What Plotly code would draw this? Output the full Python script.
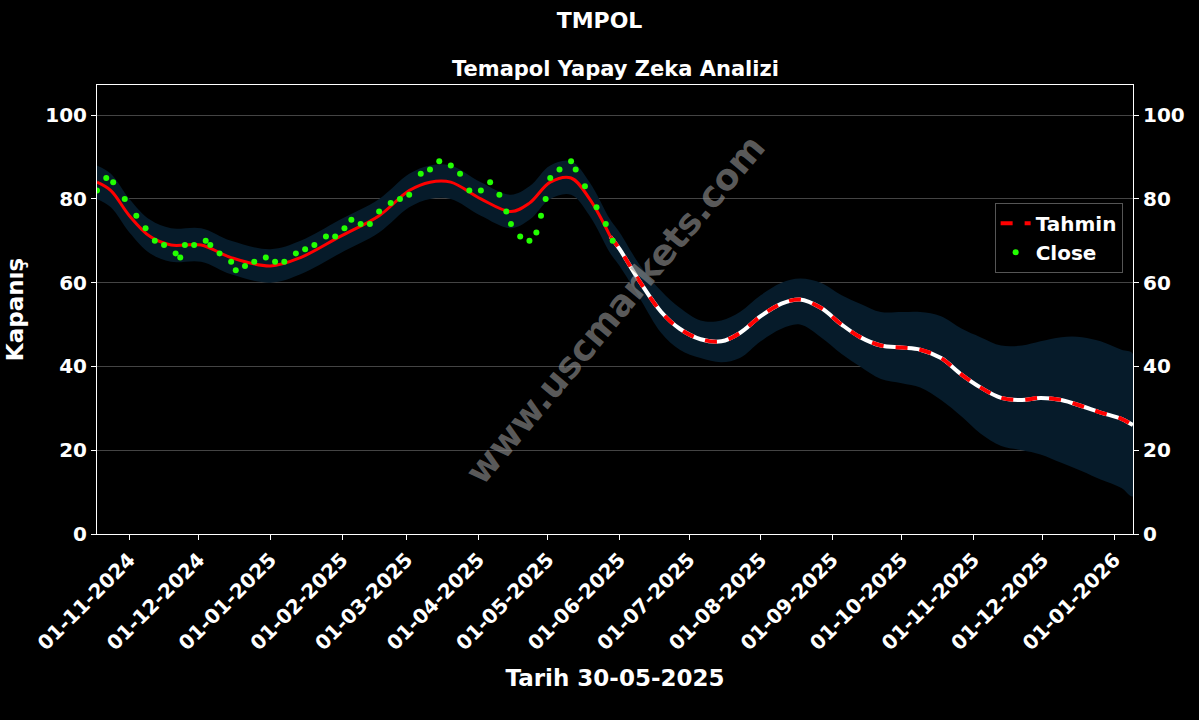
import plotly.graph_objects as go

close_dates = ["2024-10-18","2024-10-22","2024-10-25","2024-10-30","2024-11-04","2024-11-08","2024-11-12","2024-11-16","2024-11-21","2024-11-23","2024-11-25","2024-11-29","2024-12-04","2024-12-06","2024-12-10","2024-12-15","2024-12-17","2024-12-21","2024-12-25","2024-12-30","2025-01-03","2025-01-07","2025-01-12","2025-01-16","2025-01-20","2025-01-25","2025-01-29","2025-02-02","2025-02-05","2025-02-09","2025-02-13","2025-02-17","2025-02-22","2025-02-26","2025-03-02","2025-03-07","2025-03-11","2025-03-15","2025-03-20","2025-03-24","2025-03-28","2025-04-02","2025-04-06","2025-04-10","2025-04-13","2025-04-15","2025-04-19","2025-04-23","2025-04-26","2025-04-28","2025-04-30","2025-05-02","2025-05-06","2025-05-11","2025-05-13","2025-05-17","2025-05-22","2025-05-26","2025-05-29"]
close_vals = [82,85,84,80,76,73,70,69,67,66,69,69,70,69,67,65,63,64,65,66,65,65,67,68,69,71,71,73,75,74,74,77,79,80,81,86,87,89,88,86,82,82,84,81,77,74,71,70,72,76,80,85,87,89,87,83,78,74,70]

pred_dates = ["2024-10-18","2024-10-24","2024-11-01","2024-11-10","2024-11-19","2024-12-02","2024-12-15","2025-01-01","2025-01-14","2025-01-31","2025-02-17","2025-03-02","2025-03-11","2025-03-20","2025-04-02","2025-04-15","2025-04-23","2025-05-02","2025-05-11","2025-05-19","2025-05-28","2025-06-01","2025-06-10","2025-06-19","2025-06-27","2025-07-06","2025-07-15","2025-07-23","2025-08-01","2025-08-10","2025-08-18","2025-08-27","2025-09-05","2025-09-13","2025-09-22","2025-10-01","2025-10-09","2025-10-18","2025-10-27","2025-11-04","2025-11-13","2025-11-22","2025-11-30","2025-12-09","2025-12-18","2025-12-26","2026-01-04","2026-01-09"]
pred_vals = [84,82,76,71,69,69,66,64,66,71,76,82,84,84,80,77,79,84,85,80,71,68,60,53,49,46.5,46,48,52,55,56,54,50,47,45,44.5,44,42,38,35,32.5,32,32.5,32,30.5,29,27.5,26]
upper_vals = [88,86,80,75,73,73,70,68,70,75,80,86,88,88,84,81,83,88,89,84,75,72,64,58,54,51,51,53,57,60,61,60,57,55,53,53,53,52,49,47,45,45,46,47,47,46,44,43]
lower_vals = [80,78,72,67,65,65,62,60,62,67,72,78,80,80,76,73,75,80,81,76,67,64,56,48,44,42,41,42,46,49,50,47,43,40,37,36,35,32,28,24,21,20,19,17,15,13,11,9]

split = 21  # forecast begins near 2025-05-30

fig = go.Figure()
fig.add_trace(go.Scatter(x=pred_dates + pred_dates[::-1], y=upper_vals + lower_vals[::-1],
    fill="toself", fillcolor="#061b2a", line=dict(width=0, shape="spline"), showlegend=False, hoverinfo="skip"))
fig.add_trace(go.Scatter(x=pred_dates[:split], y=pred_vals[:split], mode="lines",
    line=dict(color="#ff0000", width=3, shape="spline"), showlegend=False))
fig.add_trace(go.Scatter(x=pred_dates[split-1:], y=pred_vals[split-1:], mode="lines",
    line=dict(color="white", width=4, shape="spline"), showlegend=False))
fig.add_trace(go.Scatter(x=pred_dates[split-1:], y=pred_vals[split-1:], mode="lines", name="Tahmin",
    line=dict(color="#ff0000", width=4, dash="dash", shape="spline")))
fig.add_trace(go.Scatter(x=close_dates, y=close_vals, mode="markers", name="Close",
    marker=dict(color="#22ff00", size=6)))
fig.add_trace(go.Scatter(x=[close_dates[0]], y=[close_vals[0]], yaxis="y2", mode="markers",
    marker=dict(opacity=0), showlegend=False, hoverinfo="skip"))

tickfont = dict(family="DejaVu Sans", color="white", size=20, weight="bold")
fig.update_layout(
    width=1199, height=720, paper_bgcolor="black", plot_bgcolor="black",
    margin=dict(l=97, r=66, t=85, b=186),
    title=dict(text="TMPOL", x=0.5, xanchor="center", y=0.972, yanchor="middle",
               font=dict(family="DejaVu Sans", color="white", size=22, weight="bold")),
    annotations=[
        dict(text="Temapol Yapay Zeka Analizi", xref="paper", yref="paper", x=0.5, y=1.005,
             xanchor="center", yanchor="bottom", showarrow=False,
             font=dict(family="DejaVu Sans", color="white", size=21, weight="bold")),
        dict(text="www.uscmarkets.com", xref="paper", yref="paper", x=0.5, y=0.5,
             showarrow=False, textangle=-50,
             font=dict(family="DejaVu Sans", color="rgba(150,150,150,0.6)", size=36, weight="bold")),
    ],
    xaxis=dict(range=["2024-10-18", "2026-01-09"], tickformat="%d-%m-%Y", dtick="M1",
               tick0="2024-11-01", tickangle=-45, tickfont=tickfont, showgrid=False,
               ticks="outside", tickcolor="white", linecolor="white", showline=True, mirror=True,
               title=dict(text="Tarih 30-05-2025", font=dict(family="DejaVu Sans", color="white", size=23, weight="bold"))),
    yaxis=dict(range=[0, 107.2], dtick=20, tickfont=tickfont, gridcolor="#444", gridwidth=1,
               ticks="outside", tickcolor="white", linecolor="white", showline=True, zeroline=False,
               title=dict(text="Kapanış", font=dict(family="DejaVu Sans", color="white", size=23, weight="bold"))),
    yaxis2=dict(range=[0, 107.2], dtick=20, overlaying="y", side="right", tickfont=tickfont,
                showgrid=False, ticks="outside", tickcolor="white", linecolor="white", showline=True, zeroline=False),
    legend=dict(x=0.99, y=0.66, xanchor="right", yanchor="middle", bgcolor="black",
                bordercolor="#555", borderwidth=1, font=dict(family="DejaVu Sans", color="white", size=20, weight="bold")),
)
fig.write_html("out.html", config={"displayModeBar": False},
               post_script="document.body.style.margin='0';document.body.style.background='black';")
